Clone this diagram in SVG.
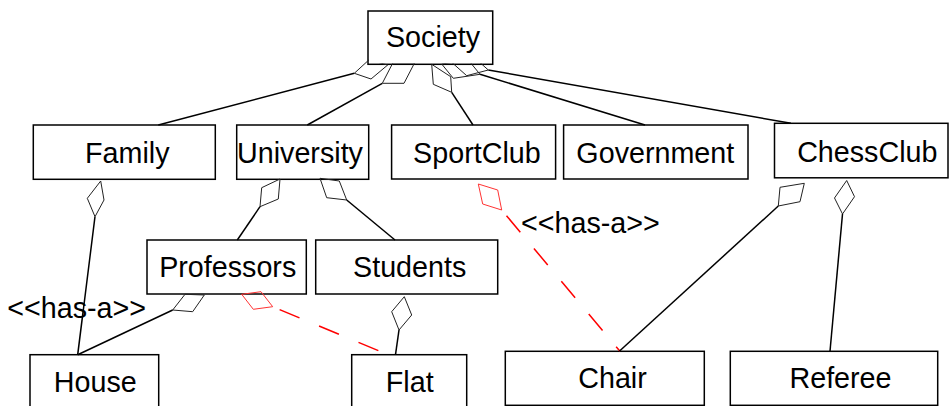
<svg xmlns="http://www.w3.org/2000/svg" width="951" height="406" viewBox="0 0 951 406">
<style>
.box{fill:#fff;stroke:#000;stroke-width:1.5}
.lbl{font-family:"Liberation Sans",Arial,sans-serif;font-size:28.7px;fill:#000;text-anchor:middle}
.note{font-family:"Liberation Sans",Arial,sans-serif;font-size:28.7px;fill:#000}
.edge{fill:none;stroke:#000;stroke-width:1.5}
.dia{fill:none;stroke:#222;stroke-width:1}
.redge{fill:none;stroke:#f00;stroke-width:1.5;stroke-dasharray:21.5 21.2;stroke-dashoffset:-7.5}
.rdia{fill:none;stroke:#f33;stroke-width:1}
</style>
<defs>
<clipPath id="outsideSociety">
<path clip-rule="evenodd" d="M0,0H951V406H0Z M369,12H491.7V63.5H369Z"/>
</clipPath>
</defs>
<rect width="951" height="406" fill="#fff"/>
<g id="nodes">
<g id="society"><rect class="box" x="368" y="11" width="124.7" height="53.3"/><text class="lbl" x="433" y="47">Society</text></g>
<g id="family"><rect class="box" x="33.3" y="125" width="182" height="54.3"/><text class="lbl" x="127.3" y="163.3">Family</text></g>
<g id="university"><rect class="box" x="236.7" y="125" width="132" height="54.3"/><text class="lbl" x="300" y="163.3">University</text></g>
<g id="sportclub"><rect class="box" x="391.6" y="125" width="164" height="54"/><text class="lbl" x="476.9" y="163">SportClub</text></g>
<g id="government"><rect class="box" x="563.6" y="125" width="184.4" height="54"/><text class="lbl" x="655.3" y="163">Government</text></g>
<g id="chessclub"><rect class="box" x="774.5" y="123.3" width="173.5" height="54.5"/><text class="lbl" x="867.3" y="162">ChessClub</text></g>
<g id="professors"><rect class="box" x="147" y="240" width="159.3" height="54"/><text class="lbl" x="227.7" y="277.3">Professors</text></g>
<g id="students"><rect class="box" x="315.7" y="240" width="182" height="54"/><text class="lbl" x="409.7" y="277.3">Students</text></g>
<g id="house"><rect class="box" x="30" y="354.7" width="128.7" height="60"/><text class="lbl" x="95.3" y="391.7">House</text></g>
<g id="flat"><rect class="box" x="351.7" y="354.7" width="115" height="60"/><text class="lbl" x="409.7" y="392">Flat</text></g>
<g id="chair"><rect class="box" x="505.3" y="351.3" width="199" height="54"/><text class="lbl" x="612.5" y="388.3">Chair</text></g>
<g id="referee"><rect class="box" x="730.3" y="351.3" width="207.4" height="54"/><text class="lbl" x="840.5" y="388.3">Referee</text></g>
</g>
<g id="connectors" clip-path="url(#outsideSociety)">
<line class="edge" x1="158.3" y1="125" x2="354.3" y2="73.3"/>
<polygon class="dia" points="354.3,73.3 369,59.8 387.7,65 371,79"/>
<line class="edge" x1="307.3" y1="125" x2="382.3" y2="83.3"/>
<polygon class="dia" points="382.3,83.3 404,83.3 414.5,63 392.8,63"/>
<line class="edge" x1="473" y1="125" x2="451.7" y2="92.3"/>
<polygon class="dia" points="451.7,92.3 433.3,84.3 431.7,64.3 450.7,76.7"/>
<line class="edge" x1="645" y1="125" x2="480" y2="74.3"/>
<polygon class="dia" points="480,74.3 453.3,78.3 441.7,64 468.4,60.1"/>
<line class="edge" x1="790.9" y1="123.3" x2="488.3" y2="70"/>
<polygon class="dia" points="488.3,70 466.7,75.7 451.7,62.3 473.3,56.6"/>
<line class="edge" x1="237.3" y1="240" x2="260" y2="206.7"/>
<polygon class="dia" points="260,206.7 261.7,187.7 280,179 278.3,199"/>
<line class="edge" x1="395" y1="240" x2="346.7" y2="200"/>
<polygon class="dia" points="346.7,200 326.7,197.7 320,178.3 339.3,181"/>
<line class="edge" x1="77.7" y1="354.7" x2="95" y2="216.7"/>
<polygon class="dia" points="95,216.7 87.3,198.3 100.7,181 104,200"/>
<line class="edge" x1="77.7" y1="354.7" x2="172.7" y2="310"/>
<polygon class="dia" points="172.7,310 185,294.3 204.3,295 192.7,311.7"/>
<line class="edge" x1="395.5" y1="354.7" x2="399" y2="330"/>
<polygon class="dia" points="399,330 391.7,311.7 404.3,296.7 411.7,315"/>
<line class="redge" x1="272.7" y1="306.7" x2="389" y2="355"/>
<polygon class="rdia" points="272.7,306.7 253.3,309.3 241.7,294.3 261,291.7"/>
<line class="redge" x1="501.7" y1="210" x2="620" y2="351.3"/>
<polygon class="rdia" points="501.7,210 482.7,204 478.3,184 497.7,190"/>
<line class="edge" x1="619.3" y1="351.3" x2="778.3" y2="206"/>
<polygon class="dia" points="778.3,206 780,187.3 804.3,183.3 800,201.7"/>
<line class="edge" x1="830" y1="351.3" x2="842.5" y2="214"/>
<polygon class="dia" points="842.5,214 834.5,198 846.7,180.5 854.5,196.7"/>
</g>
<text class="note" x="7.3" y="318">&lt;&lt;has-a&gt;&gt;</text>
<text class="note" x="521" y="233.3">&lt;&lt;has-a&gt;&gt;</text>
</svg>
